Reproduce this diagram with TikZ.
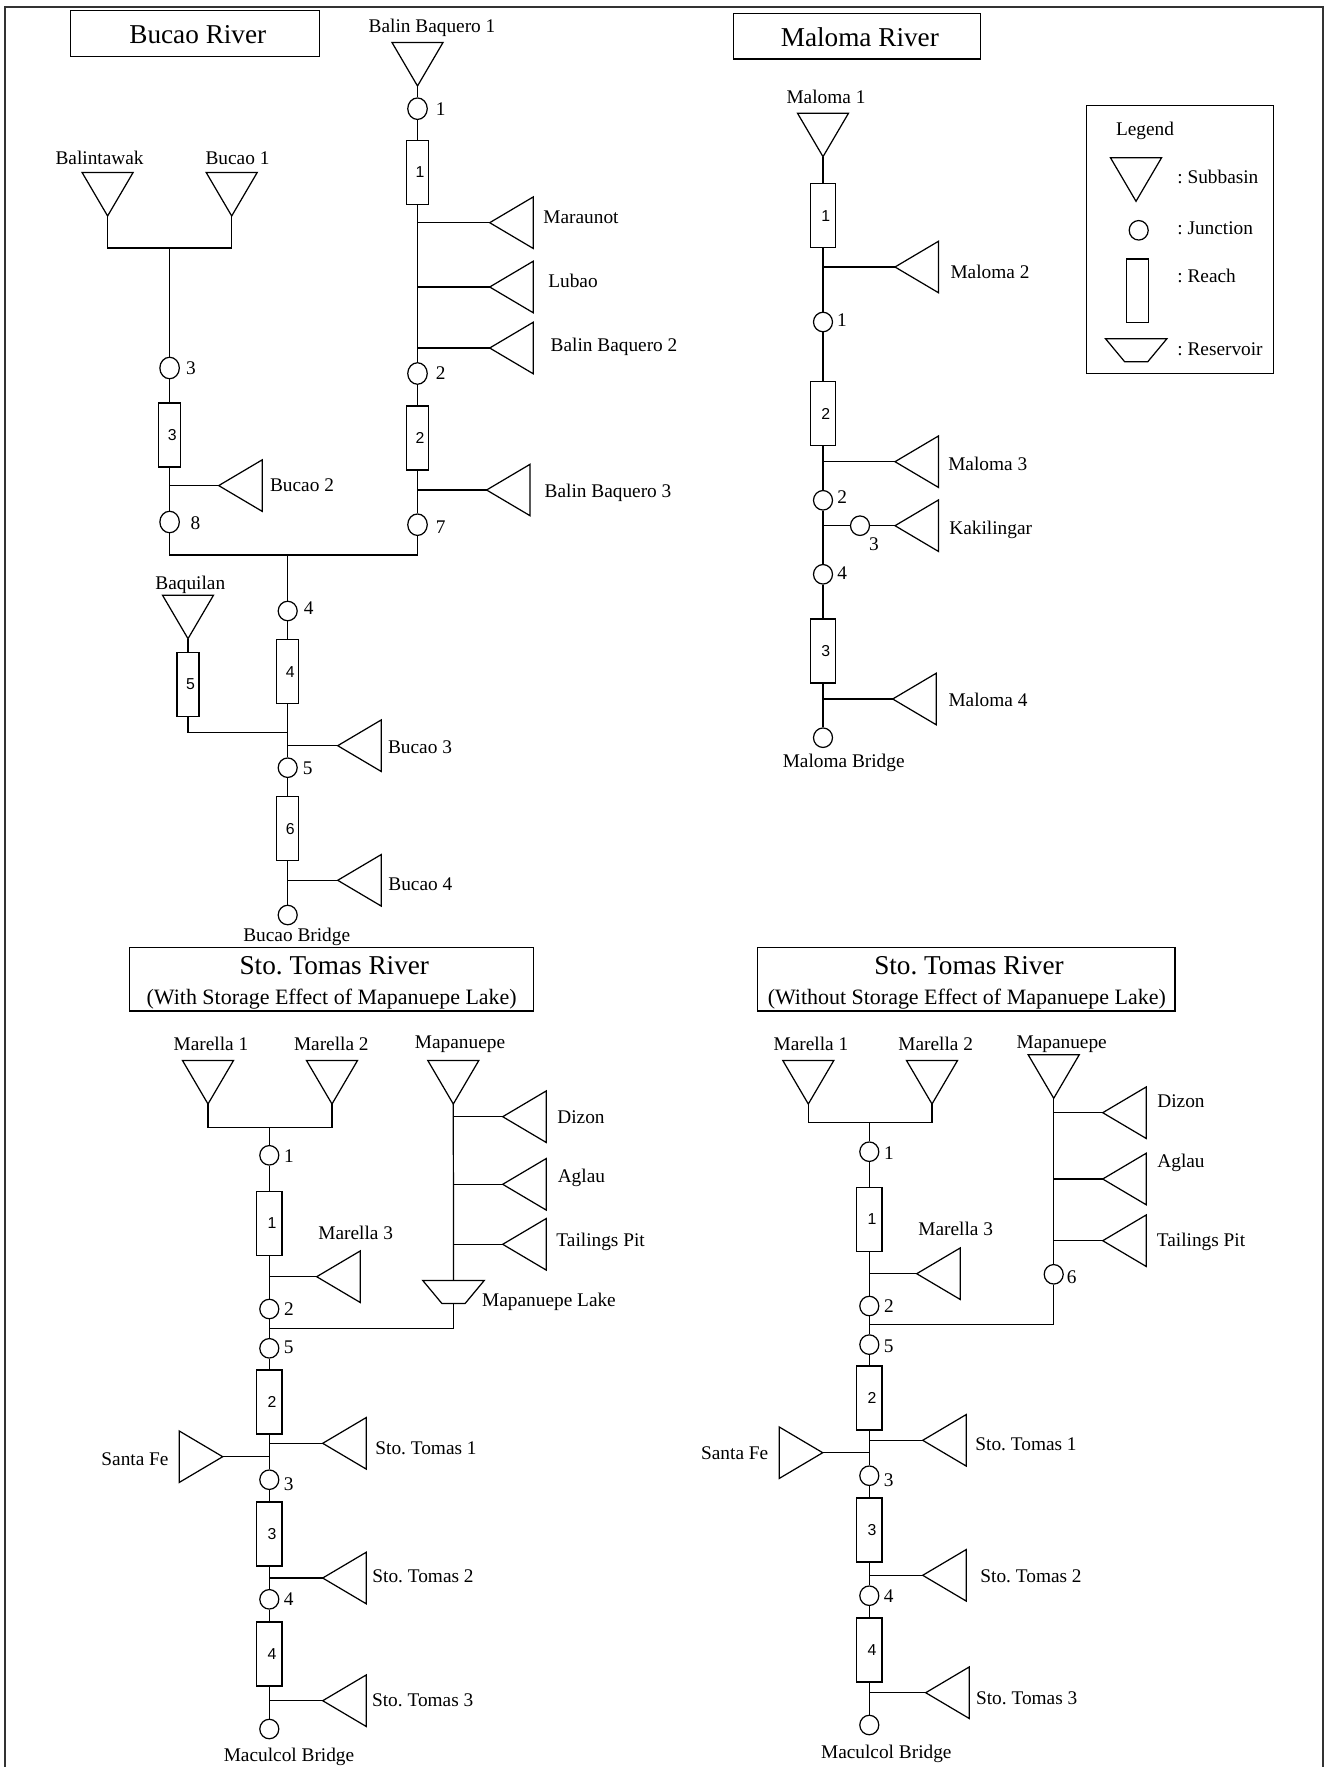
\documentclass[tikz,border=0pt]{standalone}
\usepackage{fontspec}
\setmainfont{Liberation Serif}
\newfontfamily\numfont{Liberation Sans}
\usetikzlibrary{positioning,calc,shapes.geometric}
\frenchspacing

\begin{document}
\begin{tikzpicture}[
  x=0.02cm,y=-0.02cm,
  line width=0.7pt,
  titlebox/.style={draw,align=center,inner sep=0pt,font=\fontsize{15.5}{17}\selectfont,execute at begin node={\hspace*{3.2pt}}},
  tag/.style={inner sep=0pt,text height=8.2pt,text depth=0pt,font=\fontsize{11}{13}\selectfont},
  subd/.style={draw,isosceles triangle,isosceles triangle stretches,shape border rotate=270,inner sep=0pt,outer sep=0pt,minimum width=1.02cm,minimum height=0.87cm,anchor=apex},
  subl/.style={draw,isosceles triangle,isosceles triangle stretches,shape border rotate=180,inner sep=0pt,outer sep=0pt,minimum width=1.03cm,minimum height=0.87cm,anchor=apex},
  subr/.style={draw,isosceles triangle,isosceles triangle stretches,inner sep=0pt,outer sep=0pt,minimum width=1.03cm,minimum height=0.87cm,anchor=apex},
  junc/.style={draw,ellipse,inner sep=0pt,minimum width=0.38cm,minimum height=0.39cm},
  jtall/.style={junc,minimum width=0.39cm,minimum height=0.43cm},
  reach/.style={draw,inner sep=0pt,minimum width=0.44cm,minimum height=1.28cm,font=\numfont\fontsize{9}{10}\selectfont,execute at begin node=\hspace{3pt}},
  wreach/.style={reach,minimum width=0.51cm},
  lake/.style={draw,trapezium,trapezium stretches,shape border rotate=180,inner sep=0pt,minimum width=1.23cm,minimum height=0.46cm,trapezium left angle=48,trapezium right angle=48,execute at begin node=\phantom{x}},
  frame/.style={line width=0.8pt,black!80}
]
\useasboundingbox (0,0) rectangle (1324,1767);
\coordinate (fa) at (5,1767);
\coordinate (fb) at (5,7);
\coordinate (fc) at (1323,7);
\coordinate (fd) at (1323,1767);
\draw[frame] (fa) -- (fb) -- (fc) -- (fd);

\node[titlebox,minimum width=4.97cm,minimum height=0.92cm] (bucaotitle) at (195,33.6) {\rule{0pt}{11.6pt}Bucao River};
\node[titlebox,minimum width=4.94cm,minimum height=0.91cm] (malomatitle) at (857,36.2) {\rule{0pt}{11.6pt}Maloma River};
\node[titlebox,minimum width=8.09cm,minimum height=1.27cm] (withtitle) at (331.5,979.2) {\rule{0pt}{14pt}Sto. Tomas River\\{\hspace*{-3pt}\fontsize{12.5}{17}\selectfont (With Storage Effect of Mapanuepe Lake)}};
\node[titlebox,minimum width=8.35cm,minimum height=1.27cm] (withouttitle) at (966.2,979.2) {\rule{0pt}{14pt}Sto. Tomas River\\{\hspace*{-2.5pt}\fontsize{12.5}{17}\selectfont (Without Storage Effect of Mapanuepe Lake)}};

\node[draw,minimum width=3.74cm,minimum height=5.36cm] (legend) at (1180.2,239.7) {};
\node[tag] (lglabel) at (1145,128.3) {Legend};
\node[subd] (lgsub) at (1136,201.3) {};
\node[junc] (lgjunc) at (1138.7,230.3) {};
\node[draw,inner sep=0pt,minimum width=0.43cm,minimum height=1.27cm] (lgreach) at (1137.5,290.8) {};
\node[lake] (lglake) at (1136.2,350.2) {};
\node[tag,anchor=west] (lgsubtxt) at (1176.7,176.7) {: Subbasin};
\node[tag,anchor=west] (lgjunctxt) at (1176.7,227.7) {: Junction};
\node[tag,anchor=west] (lgreachtxt) at (1176.7,275.3) {: Reach};
\node[tag,anchor=west] (lglaketxt) at (1176.7,348.3) {: Reservoir};

\node[subd] (balinone) at (417.5,86) {};
\node[jtall] (jbone) at (417.5,108.7) {};
\node[reach] (rbone) at (417.5,172.5) {1};
\node[subl] (maraunot) at (489.7,222.7) {};
\node[subl] (lubao) at (489.7,287) {};
\node[subl] (balintwo) at (489.7,348) {};
\node[jtall] (jbtwo) at (417.5,373.5) {};
\node[reach] (rbtwo) at (417.5,438) {2};
\node[subl] (balinthree) at (486.6,490) {};
\node[jtall] (jbseven) at (417.5,524.7) {};
\node[subd] (balintawak) at (107.6,216) {};
\node[subd] (bucaoone) at (231.7,216) {};
\coordinate (bucjoin) at (169.6,248);
\node[jtall] (jbthree) at (169.6,368) {};
\node[reach] (rbthree) at (169.6,435) {3};
\node[subl] (bucaotwo) at (218.7,485.6) {};
\node[jtall] (jbeight) at (169.6,522) {};
\coordinate (mergejoin) at (287.7,555);
\node[junc] (jbfour) at (287.7,611) {};
\node[reach] (rbfour) at (287.7,671.8) {4};
\node[subd] (baquilan) at (188,638.7) {};
\node[reach] (rbfive) at (188,684.5) {5};
\coordinate (baqjoin) at (287.7,732.7);
\node[subl] (bucaothree) at (337.7,745.7) {};
\node[junc] (jbfive) at (287.7,767.7) {};
\node[reach] (rbsix) at (287.7,828.7) {6};
\node[subl] (bucaofour) at (337.7,880.3) {};
\node[junc] (jbbridge) at (287.7,915) {};

\node[tag] (lbalinone) at (432,25) {Balin Baquero 1};
\node[tag] (ljbone) at (440.6,108) {1};
\node[tag] (lmaraunot) at (581,216.6) {Maraunot};
\node[tag] (llubao) at (573,280.5) {Lubao};
\node[tag] (lbalintwo) at (614,344.4) {Balin Baquero 2};
\node[tag] (ljbtwo) at (440.6,372) {2};
\node[tag] (lbalinthree) at (608,490.6) {Balin Baquero 3};
\node[tag] (ljbseven) at (440.6,526) {7};
\node[tag] (lbalintawak) at (99.6,157) {Balintawak};
\node[tag] (lbucaoone) at (237.5,157) {Bucao 1};
\node[tag] (ljbthree) at (191,367.4) {3};
\node[tag] (lbucaotwo) at (302,484) {Bucao 2};
\node[tag] (ljbeight) at (195.5,522.4) {8};
\node[tag] (lbaquilan) at (190.3,582) {Baquilan};
\node[tag] (ljbfour) at (308.7,607.7) {4};
\node[tag] (lbucaothree) at (420,746) {Bucao 3};
\node[tag] (ljbfive) at (307.7,767.3) {5};
\node[tag] (lbucaofour) at (420.3,883.3) {Bucao 4};
\node[tag] (lbucaobridge) at (296.7,934.7) {Bucao Bridge};

\draw (balinone.apex) -- (jbone);
\draw (jbone) -- (rbone);
\draw (rbone) -- (jbtwo);
\draw (jbtwo) -- (rbtwo);
\draw (rbtwo) -- (jbseven);
\draw (maraunot.apex) -- (maraunot.apex -| rbone);
\draw (lubao.apex) -- (lubao.apex -| rbone);
\draw (balintwo.apex) -- (balintwo.apex -| rbone);
\draw (balinthree.apex) -- (balinthree.apex -| rbone);
\draw (balintawak.apex) |- (bucjoin) -| (bucaoone.apex);
\draw (bucjoin) -- (jbthree);
\draw (jbthree) -- (rbthree);
\draw (rbthree) -- (jbeight);
\draw (bucaotwo.apex) -- (bucaotwo.apex -| rbthree);
\draw (jbeight) |- (mergejoin) -| (jbseven);
\draw (mergejoin) -- (jbfour);
\draw (jbfour) -- (rbfour);
\draw (rbfour) -- (jbfive);
\draw (baquilan.apex) -- (rbfive);
\draw (rbfive) |- (baqjoin);
\draw (bucaothree.apex) -- (bucaothree.apex -| rbfour);
\draw (jbfive) -- (rbsix);
\draw (rbsix) -- (jbbridge);
\draw (bucaofour.apex) -- (bucaofour.apex -| rbsix);

\node[subd] (malomaone) at (823,156.7) {};
\node[wreach] (rmone) at (823,215.7) {1};
\node[subl] (malomatwo) at (895,267) {};
\node[junc] (jmone) at (823,322) {};
\node[wreach] (rmtwo) at (823,413.7) {2};
\node[subl] (malomathree) at (895,461.7) {};
\node[junc] (jmtwo) at (823,500.3) {};
\node[subl] (kakilingar) at (895,525.7) {};
\node[junc] (jmthree) at (860,525.7) {};
\node[junc] (jmfour) at (823,574.3) {};
\node[wreach] (rmthree) at (823,651) {3};
\node[subl] (malomafour) at (892.7,699) {};
\node[junc] (jmbridge) at (823,737.7) {};

\node[tag] (lmalomaone) at (826,96.7) {Maloma 1};
\node[tag] (lmalomatwo) at (990,271.7) {Maloma 2};
\node[tag] (ljmone) at (842,319.3) {1};
\node[tag] (lmalomathree) at (987.7,463.3) {Maloma 3};
\node[tag] (ljmtwo) at (842.3,496.7) {2};
\node[tag] (lkakilingar) at (990.7,527.7) {Kakilingar};
\node[tag] (ljmthree) at (874,543.3) {3};
\node[tag] (ljmfour) at (842.3,572) {4};
\node[tag] (lmalomafour) at (988,699) {Maloma 4};
\node[tag] (lmalomabridge) at (843.7,760.7) {Maloma Bridge};

\draw (malomaone.apex) -- (rmone);
\draw (rmone) -- (jmone);
\draw (malomatwo.apex) -- (malomatwo.apex -| rmone);
\draw (jmone) -- (rmtwo);
\draw (rmtwo) -- (jmtwo);
\draw (malomathree.apex) -- (malomathree.apex -| rmtwo);
\draw (jmtwo) -- (jmfour);
\draw (kakilingar.apex) -- (jmthree);
\draw (jmthree) -- (jmthree -| jmtwo);
\draw (jmfour) -- (rmthree);
\draw (rmthree) -- (jmbridge);
\draw (malomafour.apex) -- (malomafour.apex -| rmthree);

\node[subd] (wmarone) at (208,1104) {};
\node[subd] (wmartwo) at (332,1104) {};
\coordinate (wjoin) at (269.3,1127.3);
\node[junc] (wjone) at (269.3,1155.3) {};
\node[wreach] (wrone) at (269.3,1223.2) {1};
\node[subl] (wmarthree) at (316.7,1276.7) {};
\node[junc] (wjtwo) at (269.3,1309) {};
\coordinate (wlakejoin) at (269.3,1328.3);
\node[junc] (wjfive) at (269.3,1348.3) {};
\node[wreach] (wrtwo) at (269.3,1402) {2};
\node[subl] (wstone) at (322.7,1443.3) {};
\node[subr] (wsanta) at (222.7,1456.7) {};
\node[junc] (wjthree) at (269.3,1479.7) {};
\node[wreach] (wrthree) at (269.3,1534) {3};
\node[subl] (wsttwo) at (322.7,1578) {};
\node[junc] (wjfour) at (269.3,1599.3) {};
\node[wreach] (wrfour) at (269.3,1654) {4};
\node[subl] (wstthree) at (322.7,1700.7) {};
\node[junc] (wjbridge) at (269.3,1729) {};
\node[subd] (wmapa) at (453.3,1104) {};
\node[subl] (wdizon) at (502.7,1116.7) {};
\node[subl] (waglau) at (502.7,1184.3) {};
\node[subl] (wtail) at (502.7,1244.3) {};
\node[lake] (wlake) at (453.5,1292) {};

\node[tag] (lwmarone) at (211,1043.3) {Marella 1};
\node[tag] (lwmartwo) at (331.3,1043.3) {Marella 2};
\node[tag] (lwmapa) at (460,1041) {Mapanuepe};
\node[tag] (lwdizon) at (581,1116.7) {Dizon};
\node[tag] (lwaglau) at (581.4,1175.7) {Aglau};
\node[tag] (lwtail) at (600.6,1239.3) {Tailings Pit};
\node[tag] (lwlake) at (549,1299.3) {Mapanuepe Lake};
\node[tag] (lwjone) at (289,1155.3) {1};
\node[tag] (lwmarthree) at (355.7,1232.3) {Marella 3};
\node[tag] (lwjtwo) at (289,1308.3) {2};
\node[tag] (lwjfive) at (288.7,1346.7) {5};
\node[tag] (lwstone) at (426,1447.3) {Sto. Tomas 1};
\node[tag] (lwsanta) at (135,1458.3) {Santa Fe};
\node[tag] (lwjthree) at (288.7,1483.3) {3};
\node[tag] (lwsttwo) at (423,1575.7) {Sto. Tomas 2};
\node[tag] (lwjfour) at (288.7,1598.3) {4};
\node[tag] (lwstthree) at (422.7,1699.7) {Sto. Tomas 3};
\node[tag] (lwbridge) at (289,1754.3) {Maculcol Bridge};

\draw (wmarone.apex) |- (wjoin) -| (wmartwo.apex);
\draw (wjoin) -- (wjone);
\draw (wjone) -- (wrone);
\draw (wrone) -- (wjtwo);
\draw (wmarthree.apex) -- (wmarthree.apex -| wrone);
\draw (wjtwo) -- (wjfive);
\draw (wjfive) -- (wrtwo);
\draw (wrtwo) -- (wjthree);
\draw (wstone.apex) -- (wstone.apex -| wrtwo);
\draw (wsanta.apex) -- (wsanta.apex -| wrtwo);
\draw (wjthree) -- (wrthree);
\draw (wrthree) -- (wjfour);
\draw (wsttwo.apex) -- (wsttwo.apex -| wrthree);
\draw (wjfour) -- (wrfour);
\draw (wrfour) -- (wjbridge);
\draw (wstthree.apex) -- (wstthree.apex -| wrfour);
\draw (wmapa.apex) -- (wlake.north);
\draw (wdizon.apex) -- (wdizon.apex -| wmapa.apex);
\draw (waglau.apex) -- (waglau.apex -| wmapa.apex);
\draw (wtail.apex) -- (wtail.apex -| wmapa.apex);
\draw (wlake.south) |- (wlakejoin);

\node[subd] (nmarone) at (808.3,1104) {};
\node[subd] (nmartwo) at (932,1104) {};
\coordinate (njoin) at (869.3,1122.7);
\node[junc] (njone) at (869.3,1151.7) {};
\node[wreach] (nrone) at (869.3,1219.2) {1};
\node[subl] (nmarthree) at (916.7,1273.7) {};
\node[junc] (njtwo) at (869.3,1306) {};
\coordinate (nlakejoin) at (869.3,1324.7);
\node[junc] (njfive) at (869.3,1344.6) {};
\node[wreach] (nrtwo) at (869.3,1398) {2};
\node[subl] (nstone) at (922.7,1440.3) {};
\node[subr] (nsanta) at (822.7,1452.7) {};
\node[junc] (njthree) at (869.3,1475.7) {};
\node[wreach] (nrthree) at (869.3,1530) {3};
\node[subl] (nsttwo) at (922.7,1575.3) {};
\node[junc] (njfour) at (869.3,1595.7) {};
\node[wreach] (nrfour) at (869.3,1650) {4};
\node[subl] (nstthree) at (925.7,1692.7) {};
\node[junc] (njbridge) at (869.3,1725) {};
\node[subd] (nmapa) at (1053.7,1098.3) {};
\node[subl] (ndizon) at (1102.7,1112.7) {};
\node[subl] (naglau) at (1102.7,1179) {};
\node[subl] (ntail) at (1102.7,1240.7) {};
\node[junc] (njsix) at (1053.7,1274.3) {};

\node[tag] (lnmarone) at (811,1043.3) {Marella 1};
\node[tag] (lnmartwo) at (935.7,1043.3) {Marella 2};
\node[tag] (lnmapa) at (1061.7,1041) {Mapanuepe};
\node[tag] (lndizon) at (1181,1100) {Dizon};
\node[tag] (lnaglau) at (1181,1160.7) {Aglau};
\node[tag] (lntail) at (1201,1239.3) {Tailings Pit};
\node[tag] (lnjsix) at (1071.7,1276.7) {6};
\node[tag] (lnjone) at (889,1152.3) {1};
\node[tag] (lnmarthree) at (955.7,1228.3) {Marella 3};
\node[tag] (lnjtwo) at (889,1305) {2};
\node[tag] (lnjfive) at (888.7,1345) {5};
\node[tag] (lnstone) at (1026,1443.3) {Sto. Tomas 1};
\node[tag] (lnsanta) at (734.7,1452.5) {Santa Fe};
\node[tag] (lnjthree) at (888.7,1479.3) {3};
\node[tag] (lnsttwo) at (1031,1575.7) {Sto. Tomas 2};
\node[tag] (lnjfour) at (888.7,1595) {4};
\node[tag] (lnstthree) at (1026.7,1697.3) {Sto. Tomas 3};
\node[tag] (lnbridge) at (886.3,1751) {Maculcol Bridge};

\draw (nmarone.apex) |- (njoin) -| (nmartwo.apex);
\draw (njoin) -- (njone);
\draw (njone) -- (nrone);
\draw (nrone) -- (njtwo);
\draw (nmarthree.apex) -- (nmarthree.apex -| nrone);
\draw (njtwo) -- (njfive);
\draw (njfive) -- (nrtwo);
\draw (nrtwo) -- (njthree);
\draw (nstone.apex) -- (nstone.apex -| nrtwo);
\draw (nsanta.apex) -- (nsanta.apex -| nrtwo);
\draw (njthree) -- (nrthree);
\draw (nrthree) -- (njfour);
\draw (nsttwo.apex) -- (nsttwo.apex -| nrthree);
\draw (njfour) -- (nrfour);
\draw (nrfour) -- (njbridge);
\draw (nstthree.apex) -- (nstthree.apex -| nrfour);
\draw (nmapa.apex) -- (njsix);
\draw (ndizon.apex) -- (ndizon.apex -| nmapa.apex);
\draw (naglau.apex) -- (naglau.apex -| nmapa.apex);
\draw (ntail.apex) -- (ntail.apex -| nmapa.apex);
\draw (njsix) |- (nlakejoin);
\end{tikzpicture}
\end{document}
